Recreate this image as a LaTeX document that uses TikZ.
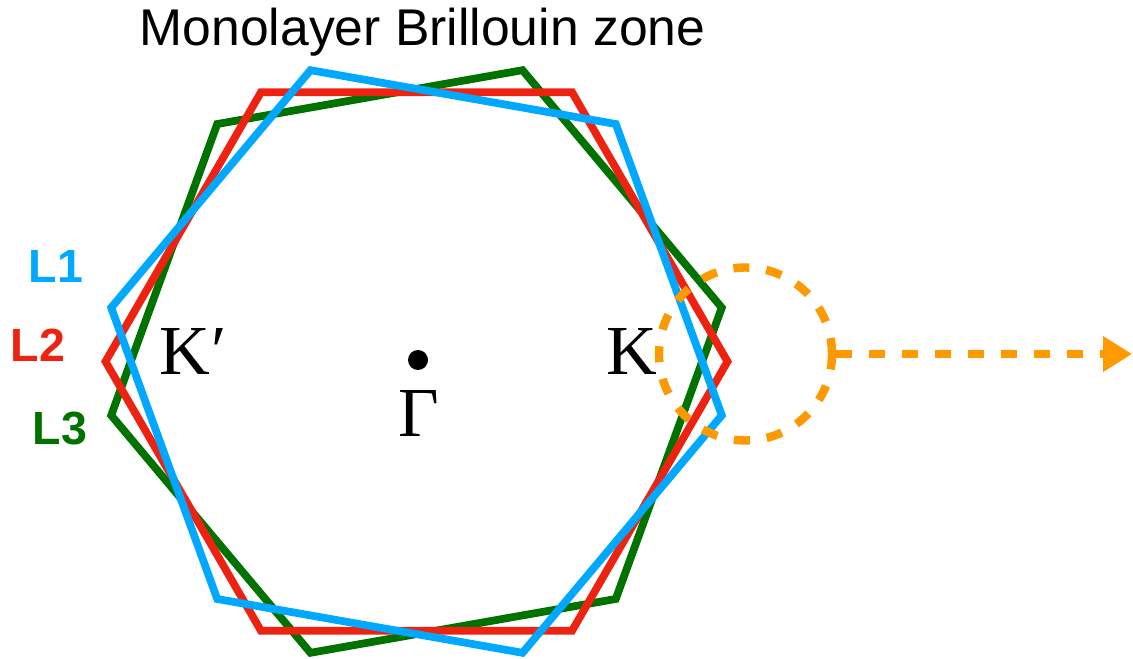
\documentclass[tikz,border=0pt]{standalone}
\usepackage{fontspec}
\setmainfont{Liberation Serif}
\setsansfont{Liberation Sans}
\usepackage{xcolor}
\usepackage{tikz}
\usetikzlibrary{arrows.meta, positioning, calc}
\definecolor{LayerBlue}{HTML}{00A8FF}
\definecolor{LayerRed}{HTML}{EE2211}
\definecolor{LayerGreen}{HTML}{007200}
\definecolor{ZoomOrange}{HTML}{FF9900}

\begin{document}
\begin{tikzpicture}[
    hexa/.style={line width=4.4pt, miter limit=10},
    layer/.style={font=\sffamily\bfseries\fontsize{26.5}{26.5}\selectfont, anchor=base},
    valley/.style={font=\rmfamily\fontsize{40}{40}\selectfont, anchor=base, inner sep=0pt},
    zoomline/.style={ZoomOrange, line width=4.8pt, dash pattern=on 0.32cm off 0.34cm},
    arrow/.style={zoomline, -{Triangle[length=0.58cm, width=0.68cm]}}
  ]
    \useasboundingbox (0,0) rectangle (22.66,13.16);
    \coordinate (G) at (8.33,5.93);

    % three rotated zones
    \draw[hexa, LayerGreen, shift={(G)}, rotate=10]
      (0:6.2) -- (60:6.2) -- (120:6.2) -- (180:6.2) -- (240:6.2) -- (300:6.2) -- cycle;
    \draw[hexa, LayerRed, shift={(G)}]
      (0:6.22) -- (60:6.22) -- (120:6.22) -- (180:6.22) -- (240:6.22) -- (300:6.22) -- cycle;
    \draw[hexa, LayerBlue, shift={(G)}, rotate=-10]
      (0:6.2) -- (60:6.2) -- (120:6.2) -- (180:6.2) -- (240:6.2) -- (300:6.2) -- cycle;

    \node[font=\sffamily\fontsize{29.4}{29.4}\selectfont, anchor=base] (title) at (8.45,12.24) {Monolayer Brillouin zone};

    \node[layer, LayerBlue] (l1) at (1.12,7.5) {L1};
    \node[layer, LayerRed] (l2) at (0.76,5.92) {L2};
    \node[layer, LayerGreen] (l3) at (1.2,4.26) {L3};

    \fill (8.36,5.96) circle (0.2);
    \node[valley] (gamma) at (8.37,4.42) {Γ};
    \node[valley] (kp) at (3.86,5.66) {K\kern1pt′};
    \node[valley] (k) at (12.64,5.66) {K};

    \node[circle, draw, zoomline, minimum size=3.46cm, inner sep=0pt] (zoom) at (14.91,6.08) {};
    \coordinate (tip) at (22.64,6.08);
    \draw[arrow] (zoom.east) -- (tip);
  \end{tikzpicture}
\end{document}
